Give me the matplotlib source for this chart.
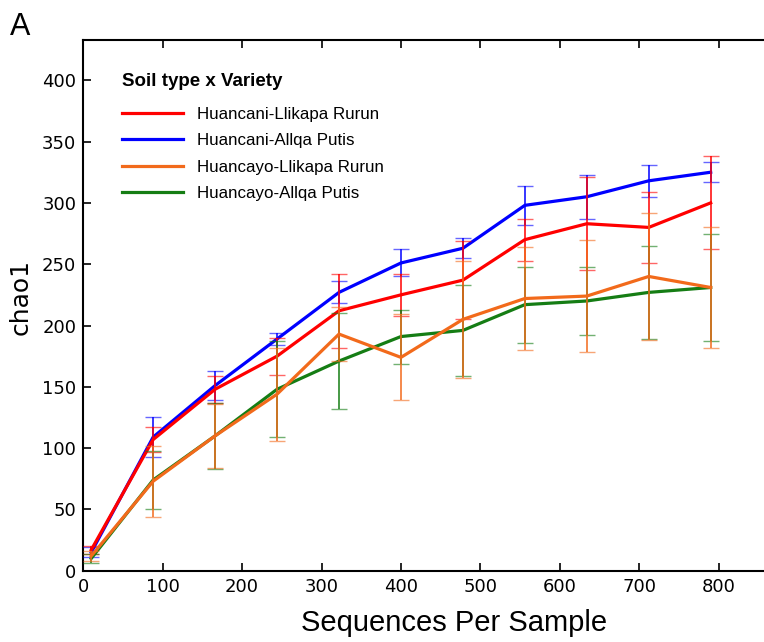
import matplotlib
matplotlib.use("Agg")
import matplotlib.pyplot as plt
from matplotlib.lines import Line2D

plt.rcParams["font.family"] = "DejaVu Sans"

# rarefaction depths
depth = [10, 88, 166, 244, 322, 400, 478, 556, 634, 712, 790]

hl_mean = [17, 107, 148, 175, 212, 225, 237, 270, 283, 280, 300]
hl_err = [3, 10, 11, 15, 30, 17, 32, 17, 38, 29, 38]

ha_mean = [15, 109, 151, 189, 227, 251, 263, 298, 305, 318, 325]
ha_err = [4, 16, 12, 5, 9, 11, 8, 16, 18, 13, 8]

yl_mean = [12, 73, 110, 144, 193, 174, 205, 222, 224, 240, 231]
yl_err = [4, 29, 26, 38, 22, 35, 48, 42, 46, 52, 49]

ya_mean = [10, 74, 110, 148, 171, 191, 196, 217, 220, 227, 231]
ya_err = [4, 24, 27, 39, 39, 22, 37, 31, 28, 38, 44]

labels = ["Huancani-Llikapa Rurun", "Huancani-Allqa Putis",
          "Huancayo-Llikapa Rurun", "Huancayo-Allqa Putis"]
colors = ["#ff0000", "#0000ff", "#f26a1b", "#157d14"]

series = [(hl_mean, hl_err), (ha_mean, ha_err), (yl_mean, yl_err), (ya_mean, ya_err)]

fig = plt.figure(figsize=(7.64, 6.42), dpi=100)
ax = fig.add_axes([0.109, 0.111, 0.895, 0.827])

draw_order = [1, 0, 3, 2]
for z, i in enumerate(draw_order):
    m, e = series[i]
    eb = ax.errorbar(depth, m, yerr=e, color=colors[i], lw=2.3, elinewidth=1.1,
                     capsize=6, capthick=1.0, ecolor=colors[i], zorder=3 + z)
    for c in eb[1]:
        c.set_alpha(0.6)

ax.set_xlim(0, 861)
ax.set_ylim(0, 433)
ax.set_xticks(range(0, 801, 100))
ax.set_yticks(range(0, 401, 50))
ax.tick_params(direction="in", length=6, width=1.2, labelsize=13, top=True,
               right=False, pad=5)
for s in ax.spines.values():
    s.set_linewidth(1.5)

ax.set_xlabel("Sequences Per Sample", fontsize=21, family="Liberation Sans")
ax.xaxis.set_label_coords(0.542, -0.072)
ax.set_ylabel("chao1", fontsize=18)
ax.yaxis.set_label_coords(-0.074, 0.516)

handles = [Line2D([], [], color=c, lw=2.3) for c in colors]
leg = ax.legend(handles, labels, loc="upper left", bbox_to_anchor=(0.035, 0.966),
                frameon=False, handlelength=3.6, labelspacing=0.68,
                title="Soil type x Variety",
                prop={"family": "Liberation Sans", "size": 12.2},
                title_fontproperties={"family": "Liberation Sans", "size": 13.5,
                                      "weight": "bold"})
leg._legend_box.align = "left"
leg._legend_box.sep = 12

fig.text(0.013, 0.946, "A", fontsize=22, family="Liberation Sans")

fig.savefig("out.png", dpi=100)
